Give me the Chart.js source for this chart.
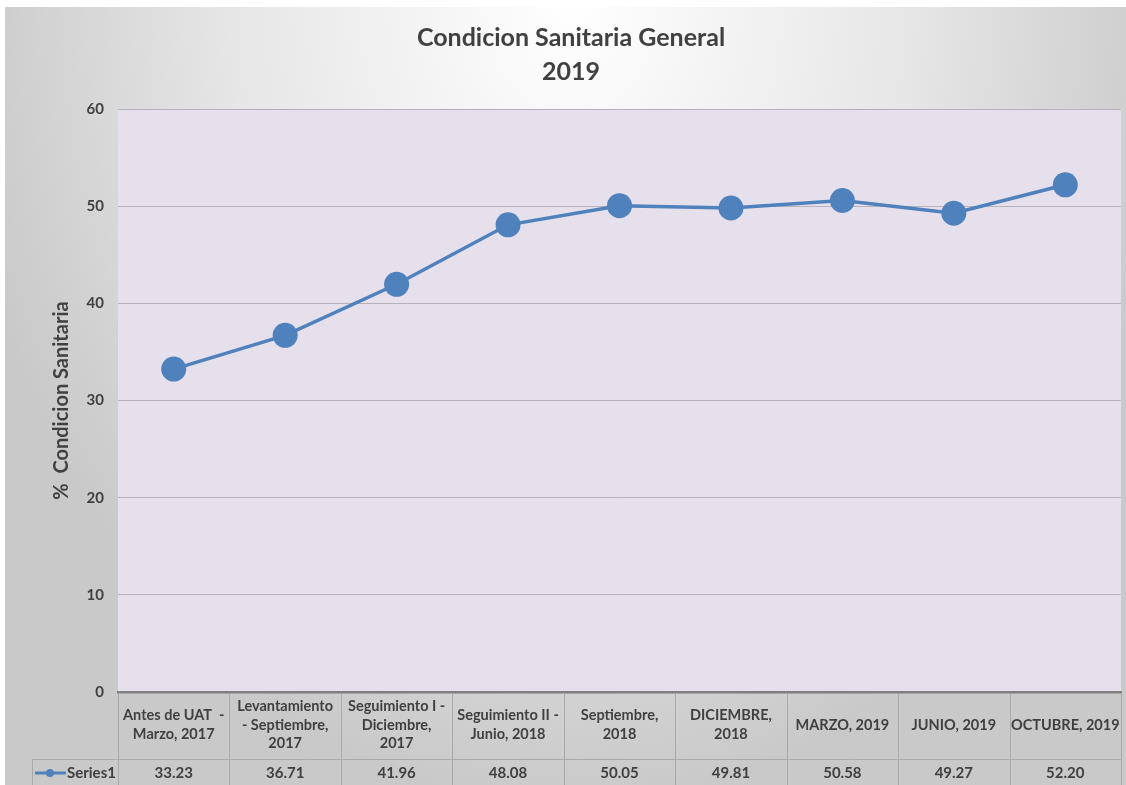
<!DOCTYPE html>
<html>
<head>
<meta charset="utf-8">
<script src="https://cdn.jsdelivr.net/npm/chart.js@4/dist/chart.umd.min.js"></script>
<style>
  html, body { margin: 0; padding: 0; background: #ffffff; }
  #wrap { position: absolute; left: 0; top: 0; width: 1126px; height: 785px; }
</style>
</head>
<body>
<div id="wrap"><canvas id="c" width="1126" height="785"></canvas></div>
<script>
// ---- Data ----
const titleLines = ["Condicion Sanitaria General", "2019"];
const yAxisTitle = "%  Condicion Sanitaria";
const categories = [
  ["Antes de UAT  -", "Marzo, 2017"],
  ["Levantamiento", "- Septiembre,", "2017"],
  ["Seguimiento I -", "Diciembre,", "2017"],
  ["Seguimiento II -", "Junio, 2018"],
  ["Septiembre,", "2018"],
  ["DICIEMBRE,", "2018"],
  ["MARZO, 2019"],
  ["JUNIO, 2019"],
  ["OCTUBRE, 2019"]
];
const seriesName = "Series1";
const values = [33.23, 36.71, 41.96, 48.08, 50.05, 49.81, 50.58, 49.27, 52.20];
const valueLabels = ["33.23", "36.71", "41.96", "48.08", "50.05", "49.81", "50.58", "49.27", "52.20"];
const yMin = 0, yMax = 60, yStep = 10;

// ---- Styles ----
const FONT = "Lato, 'Open Sans', 'DejaVu Sans', sans-serif";
const TEXT = "#404040";
const BLUE = "#4F81BD";
const TABLE_LINE = "#a9a9a9";

const backgroundPlugin = {
  id: 'bg',
  beforeDraw(chart) {
    const ctx = chart.ctx;
    const W = chart.width, H = chart.height;
    ctx.save();
    ctx.fillStyle = '#ffffff';
    ctx.fillRect(0, 0, W, H);
    const x0 = 5, y0 = 7;
    ctx.beginPath();
    ctx.rect(x0, y0, W - x0, H - y0);
    ctx.clip();
    ctx.translate(W / 2 + 8, 0);
    ctx.scale(1, 1.3);
    const g = ctx.createRadialGradient(0, 0, 0, 0, 0, 620);
    g.addColorStop(0, '#ffffff');
    g.addColorStop(0.55, '#e6e6e6');
    g.addColorStop(1, '#c9c9c9');
    ctx.fillStyle = g;
    ctx.fillRect(-W, -10, 2 * W, H);
    ctx.restore();
    const a = chart.chartArea;
    ctx.save();
    ctx.fillStyle = '#E6E0EC';
    ctx.fillRect(a.left, a.top, a.right - a.left, a.bottom - a.top);
    ctx.restore();
  }
};

const tablePlugin = {
  id: 'dataTable',
  afterDraw(chart) {
    const ctx = chart.ctx;
    const xs = chart.scales.x;
    const a = chart.chartArea;
    const n = categories.length;
    const step = xs.getPixelForValue(1) - xs.getPixelForValue(0);
    const top = a.bottom + 1;
    const rowY = 759;
    const bottom = chart.height;
    const legendLeft = 32;
    ctx.save();
    ctx.strokeStyle = TABLE_LINE;
    ctx.lineWidth = 1;
    ctx.beginPath();
    for (let i = 0; i <= n; i++) {
      const bx = Math.round(xs.getPixelForValue(Math.min(i, n - 1)) + (i < n ? -step / 2 : step / 2)) + 0.5;
      ctx.moveTo(bx, top);
      ctx.lineTo(bx, bottom);
    }
    const rightEdge = xs.getPixelForValue(n - 1) + step / 2;
    ctx.moveTo(legendLeft, rowY + 0.5);
    ctx.lineTo(rightEdge, rowY + 0.5);
    ctx.moveTo(legendLeft + 0.5, rowY);
    ctx.lineTo(legendLeft + 0.5, bottom);
    ctx.stroke();

    ctx.fillStyle = TEXT;
    ctx.font = "bold 15px " + FONT;
    ctx.textAlign = 'center';
    ctx.textBaseline = 'middle';
    const ty = (rowY + bottom) / 2 + 1;
    for (let i = 0; i < n; i++) {
      ctx.fillText(valueLabels[i], xs.getPixelForValue(i), ty);
    }
    ctx.strokeStyle = BLUE;
    ctx.lineWidth = 3;
    ctx.beginPath();
    ctx.moveTo(35, ty);
    ctx.lineTo(66, ty);
    ctx.stroke();
    ctx.fillStyle = BLUE;
    ctx.beginPath();
    ctx.arc(50, ty, 4, 0, Math.PI * 2);
    ctx.fill();
    ctx.fillStyle = TEXT;
    ctx.textAlign = 'left';
    ctx.fillText(seriesName, 67, ty);
    ctx.restore();
  }
};

new Chart(document.getElementById('c'), {
  type: 'line',
  data: {
    labels: categories,
    datasets: [{
      label: seriesName,
      data: values,
      borderColor: BLUE,
      backgroundColor: BLUE,
      borderWidth: 3.5,
      pointRadius: 12.5,
      pointBackgroundColor: BLUE,
      pointBorderWidth: 0,
      tension: 0,
      clip: false
    }]
  },
  options: {
    responsive: false,
    animation: false,
    devicePixelRatio: 1,
    layout: { autoPadding: false, padding: { left: 21, right: 5, top: 0, bottom: 0 } },
    plugins: {
      legend: { display: false },
      tooltip: { enabled: false },
      title: {
        display: true,
        text: titleLines,
        color: TEXT,
        font: { family: FONT, size: 25, weight: 'bold', lineHeight: 1.36 },
        padding: { top: 21, bottom: 20 }
      }
    },
    scales: {
      x: {
        type: 'category',
        offset: true,
        grid: { display: false, drawTicks: false },
        border: { display: true, color: '#7f7f7f', width: 2.5 },
        ticks: {
          color: TEXT,
          font: { family: FONT, size: 14.5, weight: 'bold', lineHeight: 1.3 },
          maxRotation: 0,
          minRotation: 0,
          autoSkip: false,
          crossAlign: 'center',
          padding: 14
        },
        afterFit(scale) {
          scale.height = 93;
          scale.paddingLeft = 0;
          scale.paddingRight = 0;
        }
      },
      y: {
        min: yMin,
        max: yMax,
        ticks: {
          stepSize: yStep,
          color: TEXT,
          font: { family: FONT, size: 15, weight: 'bold' },
          padding: 14
        },
        grid: { color: '#b6b2bb', lineWidth: 1, drawTicks: false },
        border: { display: false },
        title: {
          display: true,
          text: yAxisTitle,
          color: TEXT,
          font: { family: FONT, size: 20, weight: 'bold' },
          padding: { top: 29, bottom: 0 }
        },
        afterFit(scale) { scale.width = 97; }
      }
    }
  },
  plugins: [backgroundPlugin, tablePlugin]
});
</script>
</body>
</html>
